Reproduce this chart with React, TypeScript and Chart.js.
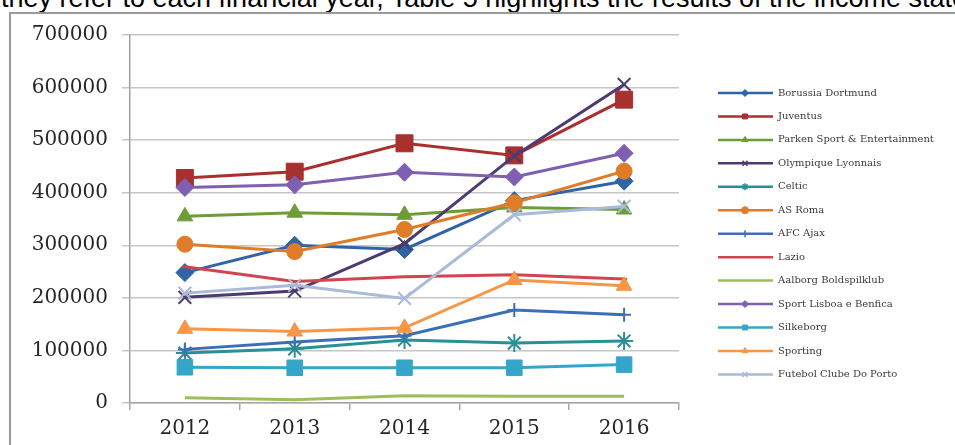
import React, { useEffect, useRef } from 'react';
import { Chart, registerables } from 'chart.js';
import { drawPoint } from 'chart.js/helpers';

Chart.register(...registerables);

const years = ['2012', '2013', '2014', '2015', '2016'];

const clubs = [
  'Borussia Dortmund',
  'Juventus',
  'Parken Sport & Entertainment',
  'Olympique Lyonnais',
  'Celtic',
  'AS Roma',
  'AFC Ajax',
  'Lazio',
  'Aalborg Boldspilklub',
  'Sport Lisboa e Benfica',
  'Silkeborg',
  'Sporting',
  'Futebol Clube Do Porto',
];

const borussiaDortmund = [248000, 300000, 292000, 385000, 422000];
const juventus = [428000, 440000, 494000, 471000, 577000];
const parken = [355000, 362000, 358000, 372000, 368000];
const olympiqueLyonnais = [201000, 213000, 303000, 470000, 606000];
const celtic = [95000, 103000, 120000, 114000, 118000];
const asRoma = [302000, 288000, 330000, 381000, 441000];
const afcAjax = [102000, 116000, 128000, 177000, 168000];
const lazio = [259000, 231000, 240000, 244000, 236000];
const aalborg = [10000, 6000, 14000, 13000, 13000];
const benfica = [410000, 415000, 439000, 430000, 475000];
const silkeborg = [68000, 67000, 67000, 67000, 73000];
const sporting = [141000, 136000, 143000, 234000, 223000];
const porto = [209000, 224000, 199000, 358000, 374000];

const seriesValues = [
  borussiaDortmund, juventus, parken, olympiqueLyonnais, celtic, asRoma,
  afcAjax, lazio, aalborg, benfica, silkeborg, sporting, porto,
];

const seriesColors = [
  '#2f64a6', '#a8302f', '#6f9c3a', '#4d3b70', '#2a8f96', '#e07c28',
  '#3d6fb6', '#d1454e', '#9cbf5a', '#7f5fb2', '#35a6c9', '#f79646', '#a9bbd8',
];

const pointStyles = [
  'rectRot', 'rect', 'triangle', 'crossRot', 'star', 'circle',
  'cross', 'line', 'line', 'rectRot', 'rect', 'triangle', 'crossRot',
];

const pointRadii = [9, 12, 9, 9, 9, 8, 7, 3, 0, 9, 11, 9, 9];

const yMax = 700000;
const yStep = 100000;

const strokeOnly = ['crossRot', 'cross', 'star', 'line'];

const sideLegend = {
  id: 'sideLegend',
  afterDraw(chart: any) {
    const ctx = chart.ctx;
    const x0 = chart.chartArea.right + 39;
    ctx.save();
    chart.data.datasets.forEach((ds: any, i: number) => {
      const y = 93 + i * 23.45;
      ctx.strokeStyle = ds.borderColor;
      ctx.fillStyle = ds.borderColor;
      ctx.lineWidth = 2.5;
      ctx.beginPath();
      ctx.moveTo(x0, y);
      ctx.lineTo(x0 + 55, y);
      ctx.stroke();
      if (ds.pointStyle !== 'line') {
        ctx.lineWidth = strokeOnly.includes(ds.pointStyle) ? 1.5 : 1;
        drawPoint(ctx, { pointStyle: ds.pointStyle, radius: 3.5, rotation: 0, borderWidth: ctx.lineWidth } as any, x0 + 27, y);
      }
      ctx.fillStyle = '#3a3a3a';
      ctx.font = '10px "DejaVu Serif"';
      ctx.textBaseline = 'middle';
      ctx.textAlign = 'left';
      ctx.fillText(ds.label, x0 + 60, y);
    });
    ctx.restore();
  },
};

export default function App() {
  const ref = useRef<HTMLCanvasElement | null>(null);

  useEffect(() => {
    if (!ref.current) return;
    const datasets = clubs.map((club, i) => {
      const style = pointStyles[i];
      const stroke = strokeOnly.includes(style);
      return {
        label: club,
        data: seriesValues[i],
        borderColor: seriesColors[i],
        backgroundColor: seriesColors[i],
        pointBackgroundColor: seriesColors[i],
        pointBorderColor: seriesColors[i],
        pointStyle: style,
        pointRadius: pointRadii[i],
        pointBorderWidth: stroke ? 2 : 1,
        borderWidth: 3,
        tension: 0,
        order: clubs.length - i,
      };
    });

    const chart = new Chart(ref.current, {
      type: 'line',
      data: { labels: years, datasets: datasets as any },
      options: {
        animation: false,
        responsive: false,
        devicePixelRatio: 1,
        layout: { padding: { left: 0, right: 276, top: 35, bottom: 0 } },
        plugins: {
          legend: { display: false },
          tooltip: { enabled: false },
        },
        scales: {
          x: {
            type: 'category',
            offset: true,
            afterFit: (scale: any) => { scale.height = 42; },
            grid: {
              display: true,
              offset: true,
              drawOnChartArea: false,
              drawTicks: true,
              tickLength: 7,
              color: '#a8a8a8',
              lineWidth: 1.5,
            },
            border: { display: true, color: '#a8a8a8', width: 1.5 },
            ticks: {
              color: '#262626',
              padding: 7,
              font: { family: '"DejaVu Serif"', size: 20 },
              maxRotation: 0,
            },
          },
          y: {
            min: 0,
            max: yMax,
            afterFit: (scale: any) => { scale.width = 130; },
            grid: {
              color: '#c6c6c6',
              lineWidth: 1.5,
              tickLength: 8,
              drawTicks: true,
            },
            border: { display: true, color: '#a0a0a0', width: 1.5 },
            ticks: {
              stepSize: yStep,
              color: '#262626',
              padding: 14,
              font: { family: '"DejaVu Serif"', size: 20 },
              callback: (v: any) => String(v),
            },
          },
        },
      },
      plugins: [sideLegend],
    });
    return () => chart.destroy();
  }, []);

  return (
    <div style={{ position: 'fixed', left: 0, top: 0, width: 955, height: 445, overflow: 'hidden', background: '#fff' }}>
      <div
        style={{
          position: 'absolute', left: 1, top: -15, fontFamily: '"Liberation Sans", Arial, sans-serif',
          fontSize: 27, lineHeight: 1, whiteSpace: 'nowrap', color: '#000',
        }}
      >
        they refer to each financial year, Table 5 highlights the results of the income statement
      </div>
      <div
        style={{
          position: 'absolute', left: 9, top: 12, width: 946, height: 433, boxSizing: 'border-box',
          borderLeft: '2px solid #9a9a9a', borderTop: '2px solid #9a9a9a',
        }}
      />
      <canvas ref={ref} width={955} height={445} style={{ position: 'absolute', left: 0, top: 0, width: 955, height: 445 }} />
    </div>
  );
}
